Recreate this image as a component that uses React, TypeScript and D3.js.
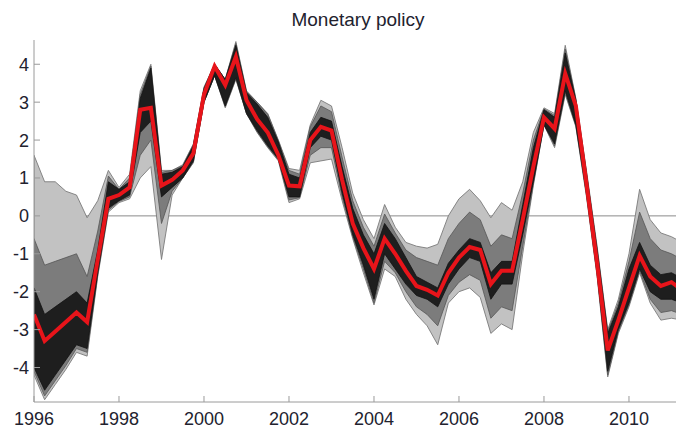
import React from "react";
import * as d3 from "d3";

// Quarterly observations, 1996Q1 .. 2011Q2 (given as year + quarter offset)
const startYear = 1996;
const quarterCount = 62;

// Median (red) path
const median = [
  -2.6, -3.3, -3.05, -2.8, -2.55, -2.8, -1.15, 0.45,
  0.55, 0.75, 2.8, 2.85, 0.8, 0.95, 1.2, 1.65,
  3.2, 3.95, 3.45, 4.2, 3.05, 2.55, 2.2, 1.6,
  0.8, 0.78, 2.0, 2.35, 2.25, 0.95, -0.2, -0.85,
  -1.4, -0.6, -1.0, -1.45, -1.85, -1.95, -2.1, -1.5,
  -1.1, -0.82, -0.9, -1.8, -1.45, -1.45, -0.1, 1.3,
  2.6, 2.3, 3.75, 2.9, 0.85, -1.25, -3.55, -2.75,
  -1.9, -1.05, -1.6, -1.85, -1.75, -1.95,
];

// Envelope of all draws
const upper = [
  1.6, 0.9, 0.9, 0.65, 0.55, -0.05, 0.4, 1.2,
  0.75, 1.1, 3.3, 4.0, 1.2, 1.2, 1.35, 1.9,
  3.4, 4.0, 3.6, 4.6, 3.3, 3.0, 2.7, 2.0,
  1.25, 1.2, 2.4, 3.05, 2.9, 1.8, 0.6, -0.1,
  -0.6, 0.3, -0.3, -0.7, -0.8, -0.85, -0.75, 0.0,
  0.45, 0.7, 0.4, -0.05, 0.35, 0.15, 0.9, 2.2,
  2.85, 2.7, 4.5, 3.1, 1.2, -0.8, -3.0, -2.2,
  -1.0, 0.7, -0.1, -0.45, -0.55, -0.7,
];
const lower = [
  -4.2, -4.85, -4.45, -4.05, -3.6, -3.7, -1.6, 0.1,
  0.35, 0.45, 1.0, 1.3, -1.15, 0.55, 1.0, 1.4,
  3.0, 3.7, 2.85, 3.6, 2.7, 2.2, 1.8, 1.45,
  0.35, 0.45, 1.4, 1.45, 1.5, 0.4, -0.6, -1.5,
  -2.35, -1.4, -1.6, -2.2, -2.6, -2.9, -3.4, -2.3,
  -2.0, -1.9, -2.15, -3.1, -2.85, -3.0, -1.0, 0.8,
  2.4, 1.8, 3.2, 2.35, 0.5, -1.6, -4.25, -3.1,
  -2.4, -1.5, -2.3, -2.75, -2.7, -2.75,
];

// Denser middle part of the draws
const midUpper = [
  -0.6, -1.3, -1.2, -1.1, -1.0, -1.6, -0.4, 1.05,
  0.7, 1.0, 3.2, 3.95, 1.15, 1.2, 1.32, 1.88,
  3.38, 4.0, 3.6, 4.55, 3.28, 3.0, 2.68, 1.98,
  1.2, 1.1, 2.35, 2.9, 2.75, 1.55, 0.4, -0.3,
  -0.8, 0.05, -0.45, -0.9, -1.1, -1.2, -1.3, -0.6,
  -0.2, 0.1, -0.1, -0.8, -0.5, -0.6, 0.6, 2.0,
  2.82, 2.65, 4.4, 3.08, 1.15, -0.85, -3.05, -2.3,
  -1.2, 0.1, -0.6, -0.9, -1.0, -1.15,
];
const midLower = [
  -4.1, -4.75, -4.35, -3.95, -3.5, -3.6, -1.55, 0.15,
  0.38, 0.5, 1.6, 2.0, -0.2, 0.65, 1.0, 1.42,
  3.0, 3.7, 2.88, 3.62, 2.7, 2.22, 1.82, 1.48,
  0.42, 0.48, 1.6, 1.8, 1.8, 0.5, -0.55, -1.4,
  -2.3, -1.2, -1.5, -2.0, -2.4, -2.6, -2.9, -2.1,
  -1.75, -1.55, -1.7, -2.7, -2.4, -2.5, -0.8, 0.85,
  2.4, 1.85, 3.25, 2.38, 0.55, -1.55, -4.2, -3.05,
  -2.35, -1.45, -2.2, -2.55, -2.5, -2.6,
];

// Dense (dark) core of the draws
const coreUpper = [
  -1.9, -2.6, -2.4, -2.2, -2.0, -2.3, -0.9, 0.9,
  0.7, 0.9, 3.1, 3.9, 1.1, 1.15, 1.3, 1.85,
  3.35, 4.0, 3.6, 4.5, 3.25, 2.95, 2.6, 1.95,
  1.1, 1.0, 2.2, 2.6, 2.5, 1.3, 0.2, -0.5,
  -1.0, -0.2, -0.6, -1.1, -1.6, -1.75, -1.9, -1.25,
  -0.9, -0.6, -0.7, -1.5, -1.2, -1.2, 0.3, 1.8,
  2.8, 2.6, 4.3, 3.05, 1.1, -0.9, -3.1, -2.4,
  -1.4, -0.7, -1.3, -1.55, -1.5, -1.65,
];
const coreLower = [
  -4.0, -4.6, -4.2, -3.8, -3.4, -3.5, -1.5, 0.2,
  0.4, 0.55, 2.2, 2.5, 0.5, 0.75, 1.0, 1.45,
  3.0, 3.7, 2.9, 3.65, 2.7, 2.25, 1.85, 1.5,
  0.5, 0.5, 1.8, 2.1, 2.0, 0.6, -0.5, -1.3,
  -2.2, -1.0, -1.4, -1.8, -2.1, -2.2, -2.4, -1.8,
  -1.4, -1.1, -1.2, -2.2, -1.8, -1.8, -0.5, 0.9,
  2.4, 1.9, 3.3, 2.4, 0.6, -1.5, -4.1, -3.0,
  -2.3, -1.4, -2.0, -2.2, -2.2, -2.3,
];

const yTicks = [-4, -3, -2, -1, 0, 1, 2, 3, 4];
const xTicks = [1996, 1998, 2000, 2002, 2004, 2006, 2008, 2010];
const title = "Monetary policy";

const W = 676;
const H = 430;

export default function App() {
  const dates = d3.range(quarterCount).map((i) => startYear + i / 4);
  const x = d3.scaleLinear().domain([1996, 2011.25]).range([34, 682.1]);
  const y = d3.scaleLinear().domain([-4.91, 4.64]).range([402, 40]);

  const band = (lo: number[], hi: number[]) =>
    d3
      .area<number>()
      .x((_, i) => x(dates[i]))
      .y0((_, i) => y(lo[i]))
      .y1((_, i) => y(hi[i]))(dates) as string;
  const line = (vals: number[]) =>
    d3
      .line<number>()
      .x((_, i) => x(dates[i]))
      .y((d) => y(d))(vals) as string;

  const font = "'Liberation Sans', Arial, sans-serif";
  const textColor = "#22222e";
  const axisColor = "#9a9a9a";

  return (
    <svg
      width={W}
      height={H}
      style={{ position: "absolute", left: 0, top: 0, background: "#fff" }}
    >
      <defs>
        <clipPath id="plot">
          <rect x={34} y={30} width={W - 34} height={372} />
        </clipPath>
      </defs>
      <text
        x={358}
        y={26}
        textAnchor="middle"
        fontFamily={font}
        fontSize={19}
        fill={textColor}
      >
        {title}
      </text>

      {/* zero line */}
      <line x1={34} x2={W} y1={y(0)} y2={y(0)} stroke="#8a8a8a" strokeWidth={1} />

      <g clipPath="url(#plot)">
        <path d={band(lower, upper)} fill="#c2c2c2" stroke="#7a7a7a" strokeWidth={0.9} />
        <path d={band(midLower, midUpper)} fill="#7c7c7c" stroke="#555" strokeWidth={0.8} />
        <path d={band(coreLower, coreUpper)} fill="#1e1e1e" stroke="#111" strokeWidth={0.8} />
        <path d={line(median)} fill="none" stroke="#e8141a" strokeWidth={4} strokeLinejoin="miter" />
      </g>

      {/* axes */}
      <line x1={34} x2={34} y1={40} y2={402} stroke={axisColor} strokeWidth={1} />
      <line x1={34} x2={W} y1={402} y2={402} stroke={axisColor} strokeWidth={1} />
      {yTicks.map((t) => (
        <g key={"y" + t}>
          <line x1={34} x2={40} y1={y(t)} y2={y(t)} stroke={axisColor} />
          <text
            x={29}
            y={y(t)}
            dy="0.36em"
            textAnchor="end"
            fontFamily={font}
            fontSize={18}
            fill={textColor}
          >
            {t}
          </text>
        </g>
      ))}
      {xTicks.map((t) => (
        <g key={"x" + t}>
          <line x1={x(t)} x2={x(t)} y1={402} y2={396} stroke={axisColor} />
          <text
            x={x(t)}
            y={425}
            textAnchor="middle"
            fontFamily={font}
            fontSize={18}
            fill={textColor}
          >
            {t}
          </text>
        </g>
      ))}
    </svg>
  );
}
